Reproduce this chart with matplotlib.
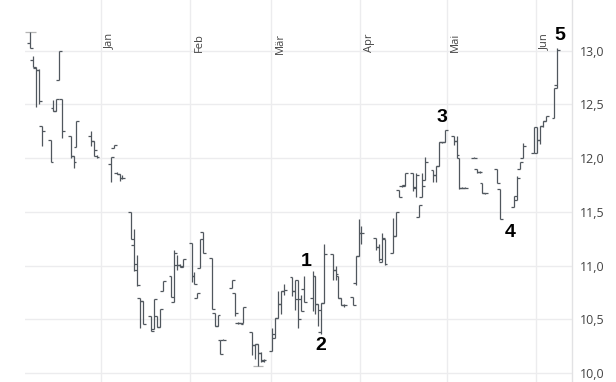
import matplotlib
matplotlib.use("Agg")
import matplotlib.pyplot as plt
import matplotlib.dates as mdates
import numpy as np
import pandas as pd

# trading days (German calendar, holidays removed)
holidays = ["2009-12-24", "2009-12-25", "2009-12-31", "2010-01-01",
            "2010-04-02", "2010-04-05"]
days = pd.bdate_range("2009-12-07", "2010-06-08")
days = days[~days.isin(pd.to_datetime(holidays))]

nan = np.nan
opens = [
    # Dec
    13.07, 12.91, 12.84, 12.82, 12.30, 12.17, 12.47, 12.44, 12.73, 12.55, 12.21, 12.02, 12.10, 12.21, 12.16, 12.02,
    # Jan
    11.95, 12.09, 11.86, 11.85, 11.82, 11.50, 11.19, 10.96, 10.70, 10.67, 10.53, 10.41, 10.53, 10.43, 10.76, 10.90,
    10.66, 11.01, 11.01, 10.99,
    # Feb
    11.21, 10.90, 10.70, 10.98, 11.31, 11.07, 10.56, 10.44, 10.31, 10.31, 10.79, 10.75, 10.47, 10.47, 10.47, 10.38,
    10.26, 10.27, 10.19, 10.11,
    # Mar
    10.21, 10.33, 10.51, 10.64, 10.76, 10.89, 10.76, 10.87, 10.69, 10.78, 10.70, 10.90, 10.64, 10.38, 10.65, 11.11,
    10.96, 10.90, 10.70, 10.63, 10.71, 10.84, 11.09,
    # Apr
    11.30, 11.26, 11.17, 11.03, 11.25, 11.12, 11.28, 11.70, 11.74, 11.74, 11.86, 11.72, 11.45, 11.64, 11.80, 11.89,
    11.84, 11.93, 12.15, 12.15,
    # May
    12.21, 12.16, 12.00, 11.72, 11.72, 12.00, 11.90, 11.87, 11.77, 11.68, nan, 11.90, 11.71, nan, nan, 11.55,
    11.61, 11.90, 12.00, nan, 12.05,
    # Jun
    12.05, 12.17, 12.30, 12.35, 12.37, 12.68,
]
highs = [
    13.17, 12.95, 12.85, 12.83, 12.30, 12.17, 12.54, 12.55, 13.00, 12.55, 12.21, 12.02, 12.35, 12.25, 12.16, 12.03,
    12.01, 12.12, 11.87, 11.85, 11.84, 11.50, 11.34, 11.10, 10.70, 10.67, 10.53, 10.69, 10.53, 10.60, 10.86, 10.90,
    11.15, 11.10, 11.02, 11.06,
    11.21, 10.94, 10.75, 11.25, 11.31, 11.07, 10.56, 10.54, 10.31, 10.32, 10.87, 10.75, 10.48, 10.47, 10.62, 10.38,
    10.27, 10.27, 10.20, 10.13,
    10.42, 10.51, 10.76, 10.76, 10.83, 10.89, 10.87, 10.87, 10.73, 10.90, 10.95, 10.90, 10.64, 10.65, 11.20, 11.11,
    11.00, 10.90, 10.70, 10.64, 10.71, 11.09, 11.43,
    11.37, 11.26, 11.20, 11.30, 11.25, 11.44, 11.50, 11.70, 11.75, 11.86, 11.86, 11.86, 11.56, 11.86, 12.01, 11.89,
    11.93, 12.15, 12.15, 12.26,
    12.21, 12.21, 12.00, 11.73, 11.73, 12.01, 11.90, 11.88, 11.77, 11.68, nan, 11.90, 11.71, nan, nan, 11.65,
    11.83, 11.96, 12.14, nan, 12.29,
    12.29, 12.30, 12.35, 12.39, 12.65, 13.02,
]
lows = [
    13.02, 12.85, 12.48, 12.50, 12.11, 11.96, 12.44, 12.44, 12.73, 12.19, 12.00, 11.91, 12.10, 12.11, 12.02, 12.00,
    11.78, 12.09, 11.85, 11.79, 11.81, 11.25, 10.95, 10.81, 10.42, 10.46, 10.39, 10.41, 10.43, 10.43, 10.76, 10.71,
    10.66, 10.96, 10.99, 10.99,
    10.85, 10.83, 10.70, 10.98, 11.12, 10.60, 10.44, 10.44, 10.18, 10.31, 10.79, 10.53, 10.46, 10.46, 10.47, 10.17,
    10.13, 10.07, 10.10, 10.10,
    10.21, 10.33, 10.51, 10.55, 10.73, 10.72, 10.59, 10.42, 10.58, 10.66, 10.58, 10.55, 10.44, 10.36, 10.65, 10.87,
    10.87, 10.70, 10.63, 10.62, 10.63, 10.82, 11.09,
    11.20, 11.15, 11.04, 11.03, 11.01, 11.12, 11.28, 11.64, 11.73, 11.74, 11.69, 11.64, 11.45, 11.64, 11.80, 11.78,
    11.78, 11.93, 12.14, 12.15,
    12.12, 12.00, 11.71, 11.72, 11.72, 12.00, 11.86, 11.86, 11.68, 11.67, nan, 11.77, 11.43, nan, nan, 11.55,
    11.61, 11.90, 12.00, nan, 12.05,
    12.05, 12.13, 12.29, 12.35, 12.37, 12.65,
]
closes = [
    13.02, 12.85, 12.82, 12.53, 12.25, 11.96, 12.44, 12.55, 13.00, 12.25, 12.02, 11.96, 12.35, 12.16, 12.08, 12.01,
    12.01, 12.12, 11.85, 11.82, 11.82, 11.25, 11.02, 10.82, 10.67, 10.46, 10.39, 10.69, 10.43, 10.60, 10.86, 10.71,
    11.12, 11.01, 11.00, 11.06,
    10.90, 10.83, 10.75, 11.25, 11.12, 10.60, 10.44, 10.54, 10.18, 10.31, 10.87, 10.56, 10.47, 10.46, 10.62, 10.26,
    10.27, 10.19, 10.12, 10.12,
    10.36, 10.51, 10.64, 10.76, 10.77, 10.76, 10.69, 10.50, 10.58, 10.66, 10.90, 10.64, 10.59, 10.65, 11.11, 10.96,
    10.92, 10.70, 10.63, 10.63, 10.63, 11.09, 11.30,
    11.30, 11.17, 11.06, 11.26, 11.02, 11.28, 11.50, 11.64, 11.75, 11.86, 11.73, 11.84, 11.56, 11.74, 11.96, 11.84,
    11.93, 12.15, 12.15, 12.26,
    12.16, 12.03, 11.72, 11.72, 11.72, 12.00, 11.87, 11.87, 11.68, 11.68, nan, 11.77, 11.43, nan, nan, 11.65,
    11.82, 11.96, 12.11, nan, 12.29,
    12.17, 12.30, 12.35, 12.39, 12.65, 13.01,
]

months = ["2010-01-01", "2010-02-01", "2010-03-01", "2010-04-01", "2010-05-01", "2010-06-01"]
month_names = ["Jan", "Feb", "Mär", "Apr", "Mai", "Jun"]

marks = ["1", "2", "3", "4", "5"]
mark_dates = ["2010-03-13 02:00", "2010-03-18 08:00", "2010-04-29 08:00",
              "2010-05-22 22:00", "2010-06-09 07:00"]
mark_values = [11.04, 10.26, 12.375, 11.31, 13.14]

bar_color = "#50575e"
grid_color = "#ececee"

fig = plt.figure(figsize=(6.16, 3.82), dpi=100)
ax = fig.add_axes([25 / 616, 0, 546.7 / 616, 1])

o = np.array(opens)
h = np.array(highs)
l = np.array(lows)
c = np.array(closes)
x = mdates.date2num(days) + 0.4
ok = ~np.isnan(o)
w = 1.0

ax.vlines(x[ok], l[ok], h[ok], color=bar_color, lw=0.9, zorder=3)
ax.hlines(o[ok], x[ok] - w, x[ok], color=bar_color, lw=0.9, zorder=3)
ax.hlines(c[ok], x[ok], x[ok] + w, color=bar_color, lw=0.9, zorder=3)

# light markers at the period high and low
i_hi = np.nanargmax(h)
i_lo = np.nanargmin(l)
ax.hlines(h[i_hi], x[i_hi] - 1.8, x[i_hi] + 1.8, color="#b4b4b4", lw=0.9, zorder=2)
ax.hlines(l[i_lo], x[i_lo] - 1.8, x[i_lo] + 1.8, color="#b4b4b4", lw=0.9, zorder=2)

jan1 = mdates.date2num(pd.Timestamp("2010-01-01"))
ax.set_xlim(jan1 - 26.46, jan1 + 163.4)
ax.set_ylim(9.918, 13.471)

month_x = mdates.date2num(pd.to_datetime(months))
ax.set_xticks(month_x)
ax.set_xticklabels([])
ax.set_yticks(np.arange(10.0, 13.01, 0.5))
ax.yaxis.tick_right()
ax.yaxis.set_major_formatter(plt.FuncFormatter(lambda v, p: f"{v:.1f}".replace(".", ",")))
ax.tick_params(axis="both", length=0)
ax.tick_params(axis="y", pad=6, labelsize=9, labelcolor="#444444")
for lbl in ax.get_yticklabels():
    lbl.set_family("Open Sans")
ax.grid(True, color=grid_color, lw=1.0, zorder=0)

for s in ["top", "left", "bottom"]:
    ax.spines[s].set_visible(False)
ax.spines["right"].set_color("#e2e2e4")
ax.spines["right"].set_linewidth(1.0)

trans = ax.get_xaxis_transform()
for mx, name in zip(month_x, month_names):
    ax.text(mx + 1.15, 0.913, name, transform=trans, rotation=90, ha="left", va="top",
            fontsize=8, color="#444444", family="Open Sans")

for m, d, v in zip(marks, mark_dates, mark_values):
    ax.text(mdates.date2num(pd.Timestamp(d)), v, m, ha="center", va="center",
            fontsize=14, fontweight="bold", color="black", family="Liberation Sans")

fig.savefig("out.png", dpi=100)
